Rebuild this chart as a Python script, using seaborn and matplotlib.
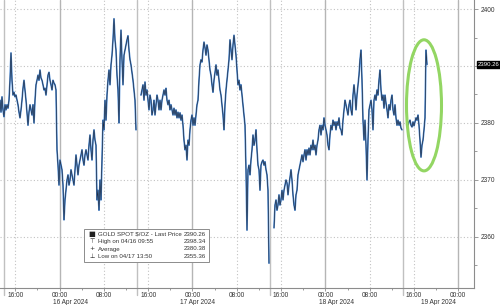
import numpy as np
import pandas as pd
import matplotlib
matplotlib.use("Agg")
import matplotlib.pyplot as plt
import matplotlib.dates as mdates
import matplotlib.ticker as mticker
import matplotlib.transforms as mtransforms
from matplotlib.patches import Ellipse, Rectangle
import seaborn as sns

# ---------------- data ----------------
start_time = "2024-04-15 13:15"
sample_seconds = 650
nan = float("nan")
prices = [
    2384.0, 2381.9, 2384.6, 2382.3, 2381.1, 2383.2, 2382.3, 2383.2, 2382.6, 2384.0,
    2387.5, 2392.3, 2387.5, 2384.9, 2385.4, 2384.6, 2384.9, 2384.0, 2383.2, 2381.9,
    2380.9, 2382.3, 2384.0, 2386.1, 2387.5, 2385.8, 2384.0, 2381.9, 2379.6, 2381.9,
    2383.2, 2382.3, 2381.4, 2383.2, 2380.0, 2384.0, 2386.7, 2387.5, 2388.4, 2387.5,
    2389.3, 2387.9, 2387.5, 2386.7, 2385.8, 2386.1, 2384.9, 2386.7, 2388.4, 2388.9,
    2387.5, 2386.7, 2385.8, 2387.5, 2387.0, 2386.7, 2385.8, 2375.3, 2372.6, 2369.1,
    2373.5, 2372.6, 2371.8, 2369.1, 2363.0, 2366.5, 2368.2, 2370.0, 2370.9, 2369.1,
    2370.0, 2371.8, 2370.9, 2370.0, 2369.1, 2371.8, 2374.4, 2372.6, 2370.9, 2372.6,
    2373.5, 2374.4, 2375.3, 2373.5, 2372.6, 2374.4, 2375.3, 2374.4, 2373.5, 2376.1,
    2377.9, 2375.3, 2373.5, 2377.0, 2378.8, 2377.0, 2376.1, 2366.5, 2368.2, 2364.7,
    2370.0, 2366.5, 2373.5, 2380.5, 2378.8, 2384.0, 2380.5, 2384.9, 2387.5, 2389.3,
    2386.7, 2390.2, 2391.9, 2394.6, 2398.3, 2394.6, 2392.8, 2388.4, 2385.8, 2380.0,
    2391.1, 2396.3, 2391.1, 2386.7, 2391.9, 2392.8, 2393.7, 2394.6, 2395.3, 2392.8,
    2391.1, 2390.2, 2388.9, 2387.5, 2385.8, 2384.0, 2378.8, nan, nan, nan,
    nan, 2384.9, 2385.8, 2386.7, 2384.0, 2387.2, 2384.9, 2385.8, 2384.0, 2382.3,
    2384.9, 2384.0, 2381.4, 2382.3, 2384.0, 2381.4, 2383.2, 2384.9, 2384.0, 2382.3,
    2384.0, 2382.3, 2384.0, 2384.9, 2385.8, 2384.9, 2386.1, 2384.0, 2383.2, 2384.0,
    2382.3, 2383.2, 2382.3, 2381.4, 2382.6, 2381.4, 2382.3, 2380.9, 2381.9, 2380.9,
    2381.8, 2380.5, 2381.4, 2379.6, 2377.0, 2375.3, 2376.1, 2373.5, 2377.0, 2376.1,
    2378.8, 2380.5, 2381.4, 2379.6, 2380.9, 2379.6, 2381.4, 2383.2, 2384.0, 2387.5,
    2390.2, 2391.1, 2390.7, 2392.8, 2394.2, 2393.2, 2391.9, 2393.7, 2392.8, 2391.1,
    2389.3, 2388.4, 2386.7, 2385.4, 2387.5, 2388.9, 2390.2, 2388.4, 2389.3, 2387.5,
    2385.8, 2384.9, 2383.2, 2381.4, 2378.8, 2383.2, 2385.8, 2387.5, 2389.3, 2391.1,
    2394.6, 2392.8, 2391.1, 2393.7, 2395.4, 2393.7, 2391.9, 2389.3, 2386.7, 2387.5,
    2385.8, 2386.7, 2384.9, 2383.2, 2381.4, 2379.6, 2371.8, 2361.2, 2371.8, 2372.6,
    2370.9, 2373.5, 2375.3, 2377.9, 2376.1, 2377.0, 2378.8, 2375.3, 2372.6, 2371.8,
    2368.2, 2372.6, 2373.2, 2373.5, 2372.6, 2373.2, 2371.8, 2370.9, 2368.2, 2355.4,
    nan, nan, nan, nan, 2361.6, 2365.6, 2366.5, 2364.7, 2365.6, 2367.4,
    2365.6, 2366.5, 2368.2, 2366.5, 2368.2, 2369.1, 2370.0, 2369.5, 2367.4, 2369.1,
    2370.4, 2371.8, 2370.0, 2367.4, 2365.6, 2364.7, 2367.4, 2368.2, 2370.9, 2371.8,
    2372.6, 2373.5, 2374.4, 2373.2, 2374.4, 2375.3, 2373.5, 2375.3, 2374.4, 2375.6,
    2374.4, 2376.1, 2375.3, 2377.0, 2375.3, 2376.1, 2374.4, 2376.1, 2377.0, 2378.8,
    2379.6, 2377.9, 2379.6, 2378.8, 2380.9, 2379.6, 2378.8, 2377.9, 2376.1, 2375.3,
    2377.9, 2379.6, 2378.8, 2380.5, 2379.6, 2380.2, 2378.8, 2380.2, 2379.6, 2380.9,
    2379.1, 2378.8, 2377.9, 2380.5, 2382.3, 2384.0, 2383.2, 2382.3, 2381.4, 2383.2,
    2384.0, 2382.3, 2381.4, 2384.9, 2386.7, 2384.9, 2382.3, 2384.9, 2386.7, 2388.4,
    2391.1, 2392.8, 2387.5, 2380.5, 2377.0, 2380.5, 2376.1, 2370.0, 2377.0, 2382.3,
    2383.2, 2384.0, 2382.3, 2378.8, 2384.0, 2384.9, 2384.0, 2385.8, 2384.9, 2387.5,
    2389.3, 2385.8, 2384.0, 2384.9, 2382.6, 2384.9, 2383.5, 2382.3, 2380.9, 2383.2,
    2382.3, 2384.0, 2384.9, 2382.3, 2381.4, 2383.2, 2380.9, 2379.6, 2380.5, 2379.6,
    2380.2, 2379.1, 2378.8, nan, nan, nan, nan, 2380.5, 2379.6, 2380.2,
    2380.5, 2379.6, 2379.3, 2380.2, 2379.5, 2380.2, 2380.9, 2380.5, 2381.4, 2379.6,
    2377.0, 2374.0, 2376.1, 2377.0, 2378.8, 2380.9, 2392.8, 2390.26,
]
last_price = 2390.26
high_price = 2398.34
avg_price = 2380.38
low_price = 2355.36
y_ticks = [2360, 2370, 2380, 2390, 2400]
y_tick_labels = ["2360", "2370", "2380", "", "2400"]
legend_labels = ["GOLD SPOT $/OZ - Last Price", "High on 04/16 09:55", "Average", "Low on 04/17 13:50"]
legend_icons = ["\u25A0", "\u22A4", "+", "\u22A5"]
legend_values = [last_price, high_price, avg_price, low_price]
date_labels = ["16 Apr 2024", "17 Apr 2024", "18 Apr 2024", "19 Apr 2024"]
date_label_times = ["2024-04-16 02:00", "2024-04-17 01:00", "2024-04-18 02:00", "2024-04-18 20:30"]
midnights = ["2024-04-16", "2024-04-17", "2024-04-18", "2024-04-19"]
session_lines = ["2024-04-15 14:00", "2024-04-16 14:00", "2024-04-17 14:00", "2024-04-18 14:00"]
dotted_times = ["2024-04-15 16:00", "2024-04-16 08:00", "2024-04-16 16:00", "2024-04-17 08:00",
                "2024-04-17 16:00", "2024-04-18 08:00", "2024-04-18 16:00"]

# ---------------- style ----------------
sns.set_style("white")
plt.rcParams["font.family"] = ["Liberation Sans", "DejaVu Sans"]
FS = 4.7
LFS = 4.4

t0 = pd.Timestamp(start_time)
times = t0 + pd.to_timedelta(np.arange(len(prices)) * sample_seconds, unit="s")
df = pd.DataFrame({"time": times, "price": prices})
df["segment"] = df["price"].isna().cumsum()
df = df.dropna()

fig = plt.figure(figsize=(5, 3.05), dpi=100)
fig.patch.set_facecolor("white")
ax = fig.add_axes([0, 1 - 288 / 305, 474 / 500, 288 / 305])
ax.set_facecolor("white")

# grid
for v in y_ticks:
    ax.axhline(v, color="#c2c2c2", lw=0.8, ls=(0, (1, 2)), zorder=0)
for t in dotted_times:
    ax.axvline(pd.Timestamp(t), color="#c2c2c2", lw=0.8, ls=(0, (1, 2)), zorder=0)
for t in midnights:
    ax.axvline(pd.Timestamp(t), color="#b5b5b5", lw=1.0, zorder=0)
for t in session_lines:
    ax.axvline(pd.Timestamp(t), ymin=-0.025, ymax=1, color="#c0c0c0", lw=1.0, zorder=0, clip_on=False)

# price line
sns.lineplot(data=df, x="time", y="price", units="segment", estimator=None,
             color="#4a8ad6", lw=1.2, ax=ax, legend=False, zorder=2)
sns.lineplot(data=df, x="time", y="price", units="segment", estimator=None,
             color="#222836", lw=0.45, ax=ax, legend=False, zorder=3)

ax.set_xlim(t0, t0 + pd.Timedelta(seconds=474 * sample_seconds))
ax.set_ylim(2351.05, 2401.58)
ax.set_xlabel("")
ax.set_ylabel("")

# axes styling
for s in ["top", "left"]:
    ax.spines[s].set_visible(False)
for s in ["right", "bottom"]:
    ax.spines[s].set_color("#8c8c8c")
    ax.spines[s].set_linewidth(0.8)

ax.yaxis.tick_right()
ax.set_yticks(y_ticks)
ax.set_yticklabels(y_tick_labels)
ax.yaxis.set_minor_locator(mticker.MultipleLocator(5))
ax.tick_params(axis="y", which="major", length=3, width=0.6, color="#8c8c8c",
               labelsize=FS, labelcolor="#333333", pad=1.5, right=True, left=False)
ax.tick_params(axis="y", which="minor", length=2, width=0.6, color="#8c8c8c", right=True, left=False)

ax.xaxis.set_major_locator(mdates.HourLocator(byhour=[0, 8, 16]))
ax.xaxis.set_major_formatter(mdates.DateFormatter("%H:%M"))
ax.xaxis.set_minor_locator(mdates.HourLocator(byhour=[4, 12, 20]))
ax.tick_params(axis="x", which="major", length=2, width=0.6, color="#8c8c8c",
               labelsize=FS, labelcolor="#333333", pad=0.6, bottom=True)
ax.tick_params(axis="x", which="minor", length=1.5, width=0.6, color="#8c8c8c", bottom=True)

blend = mtransforms.blended_transform_factory(ax.transData, ax.transAxes)
for lab, t in zip(date_labels, date_label_times):
    ax.text(pd.Timestamp(t), -0.05, lab, transform=blend, ha="center", va="center",
            fontsize=FS, color="#333333", clip_on=False)

# last price tag
blend_y = mtransforms.blended_transform_factory(ax.transAxes, ax.transData)
ax.text(1.008, last_price, f"{last_price:.2f}", transform=blend_y, ha="left", va="center",
        fontsize=4.3, color="white", clip_on=False,
        bbox=dict(boxstyle="square,pad=0.2", fc="black", ec="black"))

# green ellipse highlighting the spike
cx = mdates.date2num(t0 + pd.Timedelta(seconds=424 * sample_seconds))
w = 35 * sample_seconds / 86400
ax.add_patch(Ellipse((cx, 2383.1), w, 23.0, fill=False, ec="#93d663", lw=2.2, zorder=4))

# legend box (figure pixel coordinates)
def fx(px):
    return px / 500

def fy(py):
    return 1 - py / 305

fig.patches.append(Rectangle((fx(84), fy(262)), fx(209) - fx(84), (262 - 229) / 305,
                             transform=fig.transFigure, fc="white", ec="#8c8c8c", lw=0.7, zorder=5))
rows_y = [234, 241.5, 249, 256.5]
for icon, lab, val, ry in zip(legend_icons, legend_labels, legend_values, rows_y):
    fig.text(fx(92), fy(ry), icon, ha="center", va="center", fontsize=LFS + (0.8 if icon == "\u25A0" else 0),
             color="#222222", family=["DejaVu Sans"], zorder=6)
    fig.text(fx(98), fy(ry), lab, ha="left", va="center", fontsize=LFS, color="#333333", zorder=6)
    fig.text(fx(206), fy(ry), f"{val:.2f}", ha="right", va="center", fontsize=LFS, color="#333333", zorder=6)

fig.savefig("out.png", dpi=100, facecolor="white")
